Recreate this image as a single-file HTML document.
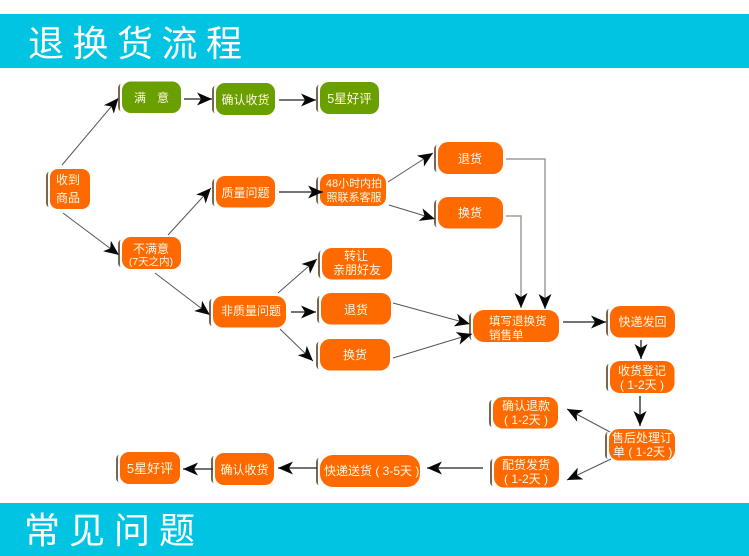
<!DOCTYPE html>
<html><head><meta charset="utf-8">
<style>
html,body{margin:0;padding:0;background:#fff;width:749px;height:556px;overflow:hidden}
svg{display:block}
#all{filter:blur(.35px)}
text{font-family:"Liberation Sans","Noto Sans CJK SC",sans-serif;fill:#fff7e6;font-size:12px;text-anchor:middle}
text.h{fill:#fff;font-family:"Noto Sans CJK SC","WenQuanYi Zen Hei",sans-serif;text-anchor:start;font-size:36px;letter-spacing:8.500px}
text.s{text-anchor:start}
.l{fill:none;stroke:#555;stroke-width:1;marker-end:url(#a)}
.k{fill:none;stroke:#222;stroke-width:1.3;marker-end:url(#a)}
.g{fill:none;stroke:#a09c94;stroke-width:1.500;marker-end:url(#a)}
.b{fill:#7a6650}.w{fill:#fff}
</style></head><body>
<svg width="749" height="556" viewBox="0 0 749 556" xmlns="http://www.w3.org/2000/svg">
<defs>
<marker id="a" markerUnits="userSpaceOnUse" markerWidth="18" markerHeight="16" refX="15" refY="6.500" orient="auto" overflow="visible">
<path d="M0,0 L15,6.500 L0,13 L4,6.500 Z" fill="#080808"/></marker>
</defs>
<g id="all">
<rect x="0" y="14" width="749" height="54" fill="#00c4e2"/>
<rect x="0" y="503" width="749" height="53" fill="#00c4e2"/>
<text class="h" x="28" y="56">退换货流程</text>
<text class="h" x="24" y="543" style="letter-spacing:9px">常见问题</text>

<!-- Nodes -->
<g fill="#6a9f00">
<rect class="b" x="118" y="83" width="30" height="29" rx="5"/><rect class="w" x="120" y="81" width="30" height="33" rx="5"/><rect x="122" y="81.500" width="59" height="31.500" rx="9"/>
<rect class="b" x="212" y="85" width="30" height="29" rx="5"/><rect class="w" x="214" y="83" width="30" height="33" rx="5"/><rect x="216" y="83" width="59" height="32" rx="9"/>
<rect class="b" x="316" y="84" width="30" height="29" rx="5"/><rect class="w" x="318" y="82" width="30" height="33" rx="5"/><rect x="320" y="82" width="59" height="32" rx="9"/>
</g>
<g fill="#ff6a00">
<rect class="b" x="46" y="171" width="20" height="37" rx="5"/><rect class="w" x="48" y="169" width="20" height="41" rx="5"/><rect x="50" y="169" width="40" height="40" rx="8"/>
<rect class="b" x="212" y="178" width="30" height="29" rx="5"/><rect class="w" x="214" y="176" width="30" height="33" rx="5"/><rect x="216" y="176" width="59" height="31.500" rx="9"/>
<rect class="b" x="316" y="176" width="30" height="29" rx="5"/><rect class="w" x="318" y="174" width="30" height="33" rx="5"/><rect x="320" y="174" width="66" height="32" rx="9"/>
<rect class="b" x="118" y="239" width="30" height="29" rx="5"/><rect class="w" x="120" y="237" width="30" height="33" rx="5"/><rect x="122" y="237" width="59" height="32" rx="9"/>
<rect class="b" x="434" y="144" width="30" height="29" rx="5"/><rect class="w" x="436" y="142" width="30" height="33" rx="5"/><rect x="438" y="142" width="65" height="32" rx="10"/>
<rect class="b" x="434" y="199" width="30" height="29" rx="5"/><rect class="w" x="436" y="197" width="30" height="33" rx="5"/><rect x="438" y="197" width="65" height="31.500" rx="10"/>
<rect class="b" x="318" y="250" width="30" height="29" rx="5"/><rect class="w" x="320" y="248" width="30" height="33" rx="5"/><rect x="322" y="248" width="70" height="31.500" rx="10"/>
<rect class="b" x="317" y="295" width="30" height="29" rx="5"/><rect class="w" x="319" y="293" width="30" height="33" rx="5"/><rect x="321" y="293" width="70" height="31.500" rx="10"/>
<rect class="b" x="316" y="341" width="30" height="29" rx="5"/><rect class="w" x="318" y="339" width="30" height="33" rx="5"/><rect x="320" y="339" width="70" height="31.500" rx="10"/>
<rect class="b" x="209" y="298" width="30" height="29" rx="5"/><rect class="w" x="211" y="296" width="30" height="33" rx="5"/><rect x="213" y="296" width="73" height="31.500" rx="10"/>
<rect class="b" x="469" y="312" width="30" height="29" rx="5"/><rect class="w" x="471" y="310" width="30" height="33" rx="5"/><rect x="473" y="310" width="86" height="32" rx="11"/>
<rect class="b" x="606" y="308" width="30" height="29" rx="5"/><rect class="w" x="608" y="306" width="30" height="33" rx="5"/><rect x="610" y="306" width="65" height="31.500" rx="10"/>
<rect class="b" x="606" y="363" width="30" height="29" rx="5"/><rect class="w" x="608" y="361" width="30" height="33" rx="5"/><rect x="610" y="361" width="64.500" height="32" rx="10"/>
<rect class="b" x="489" y="399" width="30" height="29" rx="5"/><rect class="w" x="491" y="397" width="30" height="33" rx="5"/><rect x="493" y="397" width="65" height="31.500" rx="10"/>
<rect class="b" x="605" y="431" width="30" height="29" rx="5"/><rect class="w" x="607" y="429" width="30" height="33" rx="5"/><rect x="609" y="429" width="66" height="31.500" rx="10"/>
<rect class="b" x="490" y="458" width="30" height="29" rx="5"/><rect class="w" x="492" y="456" width="30" height="33" rx="5"/><rect x="494" y="456" width="65" height="31.500" rx="10"/>
<rect class="b" x="316" y="457" width="30" height="29" rx="5"/><rect class="w" x="318" y="455" width="30" height="33" rx="5"/><rect x="320" y="455" width="100" height="32" rx="13"/>
<rect class="b" x="211" y="455" width="30" height="29" rx="5"/><rect class="w" x="213" y="453" width="30" height="33" rx="5"/><rect x="215" y="453" width="59" height="32" rx="9"/>
<rect class="b" x="116" y="454" width="30" height="29" rx="5"/><rect class="w" x="118" y="452" width="30" height="33" rx="5"/><rect x="120" y="452" width="60" height="32" rx="9"/>
</g>

<!-- Labels -->
<text x="140" y="102">满</text><text x="163" y="102">意</text>
<text x="245.500" y="104">确认收货</text>
<text x="349.500" y="103" style="font-size:12.500px">5星好评</text>
<text x="68" y="184">收到</text><text x="68" y="202">商品</text>
<text x="245.500" y="197">质量问题</text>
<text x="354" y="187" style="font-size:11px">48小时内拍</text>
<text x="354" y="201" style="font-size:11px">照联系客服</text>
<text x="151" y="253">不满意</text>
<text x="151" y="265" style="font-size:10.500px">(7天之内)</text>
<text x="470" y="163">退货</text><text x="470" y="217">换货</text>
<text x="356" y="260">转让</text><text x="357" y="274">亲朋好友</text>
<text x="356" y="314">退货</text><text x="355" y="359">换货</text>
<text x="251" y="315">非质量问题</text>
<text class="s" x="489" y="325" style="font-size:11.500px">填写退换货</text>
<text class="s" x="489" y="339" style="font-size:11.500px">销售单</text>
<text x="642.500" y="326">快递发回</text>
<text x="642" y="375">收货登记</text>
<text x="642" y="389">( 1-2天 )</text>
<text x="526" y="410">确认退款</text>
<text x="526" y="424">( 1-2天 )</text>
<text class="s" x="612" y="442">售后处理订</text>
<text class="s" x="613" y="456">单 ( 1-2天 )</text>
<text x="526" y="469">配货发货</text>
<text x="526" y="483">( 1-2天 )</text>
<text class="s" x="324" y="475">快递送货 ( 3-5天 )</text>
<text x="244.500" y="474">确认收货</text>
<text x="150" y="473" style="font-size:13px">5星好评</text>

<!-- Connectors -->
<path class="l" d="M62,165L118.500,98"/>
<path class="k" d="M184,99L212,99"/>
<path class="k" d="M279,100L316,100"/>
<path class="l" d="M63,213L119,255"/>
<path class="l" d="M168,235L211,188"/>
<path class="k" d="M279,192L323,192"/>
<path class="l" d="M388,182L433,153"/>
<path class="l" d="M389,205L435,219"/>
<path class="g" d="M506,159H545V309"/>
<path class="g" d="M506,216H521V308"/>
<path class="l" d="M155,273L210,315"/>
<path class="l" d="M278,293L317,259"/>
<path class="k" d="M291,312L316,312"/>
<path class="l" d="M280,329L313,361"/>
<path class="l" d="M393,303L470,324"/>
<path class="l" d="M393,358L472,334"/>
<path class="k" d="M563,322L606,322"/>
<path class="k" d="M641,340L641,359"/>
<path class="k" d="M640,396L640,426"/>
<path class="l" d="M610,432L567,409"/>
<path class="l" d="M611,459L567,480"/>
<path class="k" d="M483,468L427,468"/>
<path class="k" d="M317,468L278,468"/>
<path class="k" d="M213,469L183,469"/>
</g>
</svg>
</body></html>
